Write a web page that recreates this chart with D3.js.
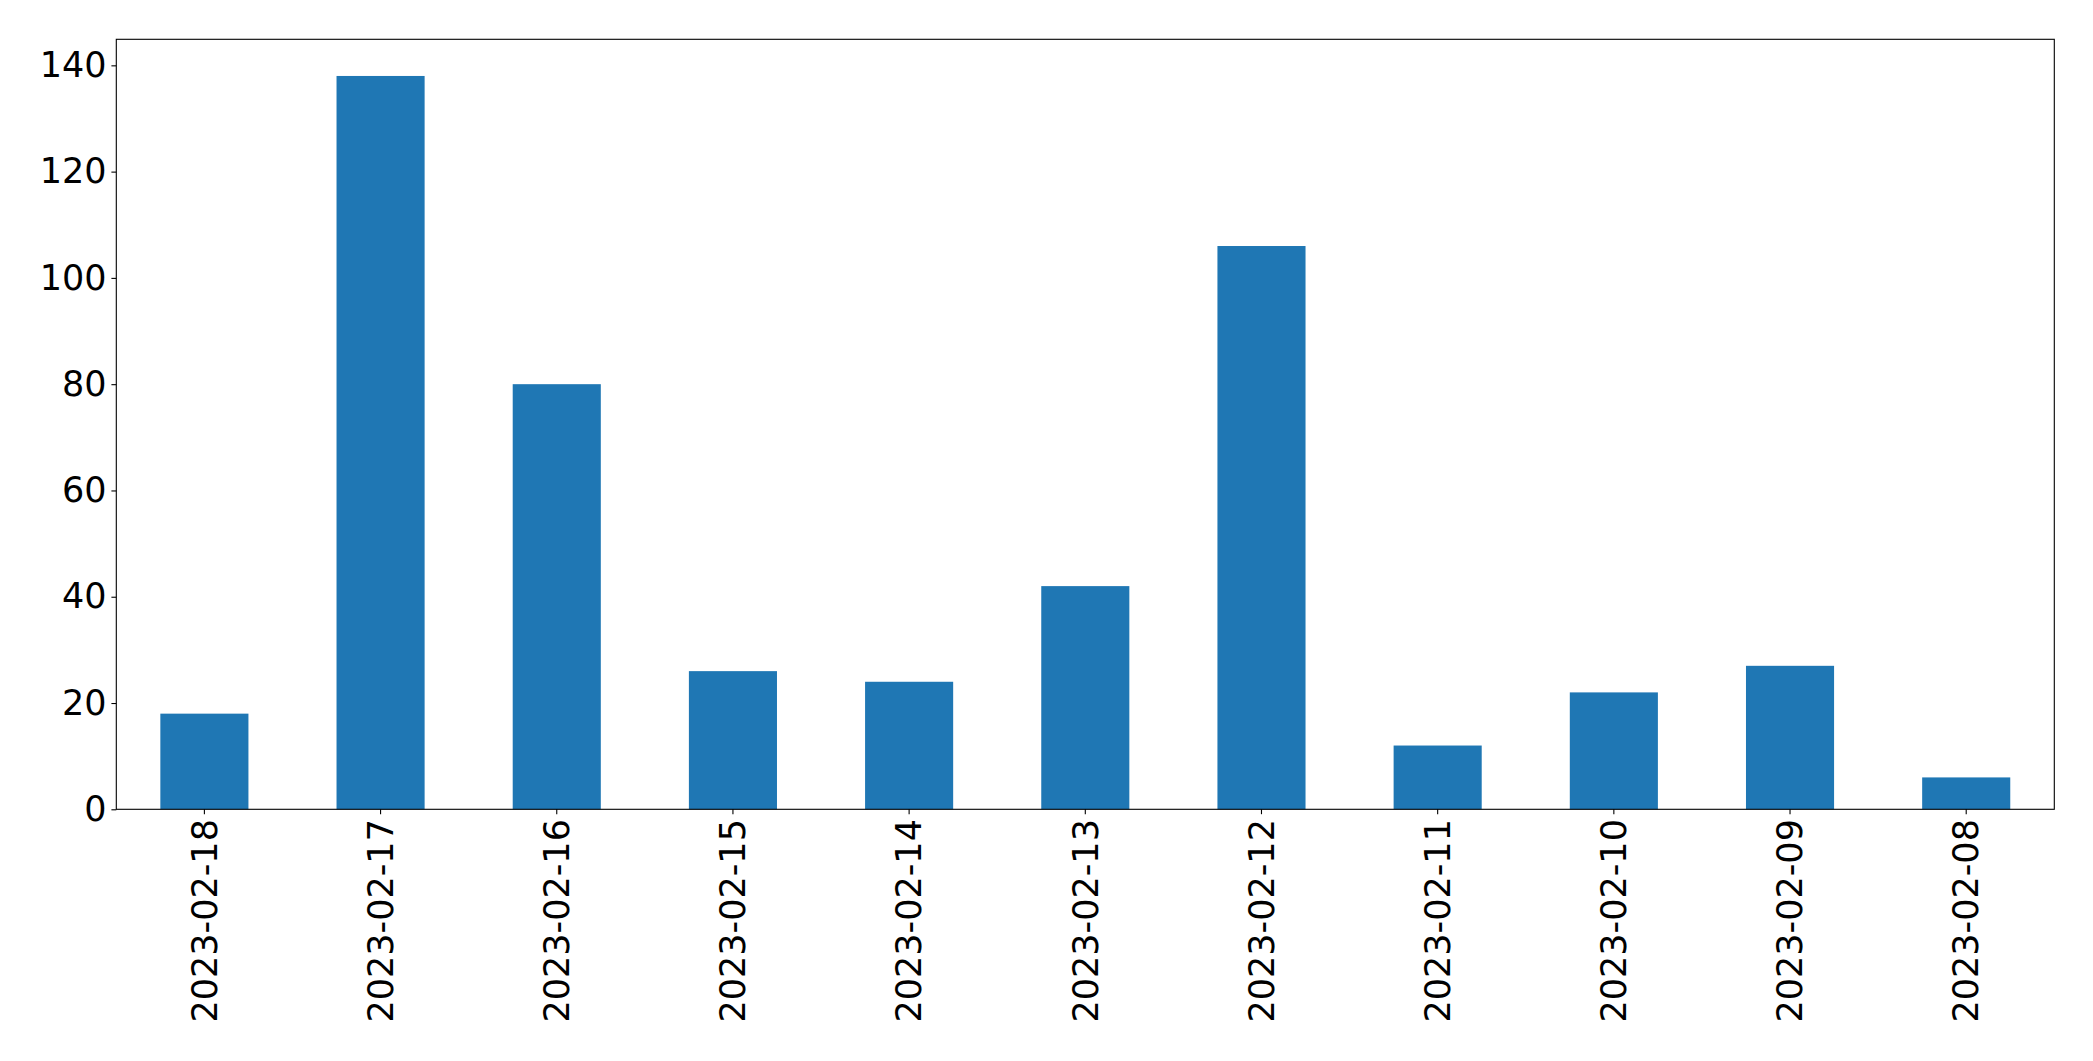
<!DOCTYPE html>
<html>
<head>
<meta charset="utf-8">
<script src="https://cdn.jsdelivr.net/npm/d3@7"></script>
<style>
  html, body { margin: 0; padding: 0; background: #fff; }
  svg { display: block; }
  text { font-family: "DejaVu Sans", sans-serif; fill: #000; }
</style>
</head>
<body>
<svg id="chart" width="2093" height="1061"></svg>
<script>
const categories = ["2023-02-18","2023-02-17","2023-02-16","2023-02-15","2023-02-14","2023-02-13","2023-02-12","2023-02-11","2023-02-10","2023-02-09","2023-02-08"];
const values = [18, 138, 80, 26, 24, 42, 106, 12, 22, 27, 6];
const yTicks = [0, 20, 40, 60, 80, 100, 120, 140];

const W = 2093, H = 1061;
const m = { left: 116.3, right: 2054.3, top: 39.3, bottom: 809.3 };
const fontSize = 35;
const tickLen = 4.9, tickPad = 4.9;

const svg = d3.select("#chart");

const x = d3.scaleBand()
  .domain(categories)
  .range([m.left, m.right])
  .paddingInner(0.5)
  .paddingOuter(0.25);

const yMax = d3.max(values) * 1.05;
const y = d3.scaleLinear().domain([0, yMax]).range([m.bottom, m.top]);

svg.append("g").selectAll("rect")
  .data(values)
  .join("rect")
  .attr("x", (d, i) => x(categories[i]))
  .attr("y", d => y(d))
  .attr("width", x.bandwidth())
  .attr("height", d => y(0) - y(d))
  .attr("fill", "#1f77b4");

// Frame
svg.append("rect")
  .attr("x", m.left).attr("y", m.top)
  .attr("width", m.right - m.left).attr("height", m.bottom - m.top)
  .attr("fill", "none").attr("stroke", "#000").attr("stroke-width", 1.1);

// Y axis
const yAxis = d3.axisLeft(y).tickValues(yTicks).tickSize(tickLen).tickPadding(tickPad).tickFormat(d3.format("d"));
const gy = svg.append("g").attr("transform", `translate(${m.left},0)`).call(yAxis);
gy.select(".domain").remove();
gy.selectAll("line").attr("stroke", "#000").attr("stroke-width", 1.1);
gy.selectAll("text").attr("font-size", fontSize).attr("font-family", "DejaVu Sans, sans-serif").attr("fill", "#000");

// X axis
const xAxis = d3.axisBottom(x).tickSize(tickLen).tickPadding(tickPad);
const gx = svg.append("g").attr("transform", `translate(0,${m.bottom})`).call(xAxis);
gx.select(".domain").remove();
gx.selectAll("line").attr("stroke", "#000").attr("stroke-width", 1.1);
gx.selectAll("text")
  .attr("font-size", fontSize)
  .attr("font-family", "DejaVu Sans, sans-serif")
  .attr("fill", "#000")
  .attr("text-anchor", "end")
  .attr("transform", `translate(0,${tickLen + tickPad}) rotate(-90)`)
  .attr("x", 0).attr("y", 0).attr("dy", "0.35em");
</script>
</body>
</html>
